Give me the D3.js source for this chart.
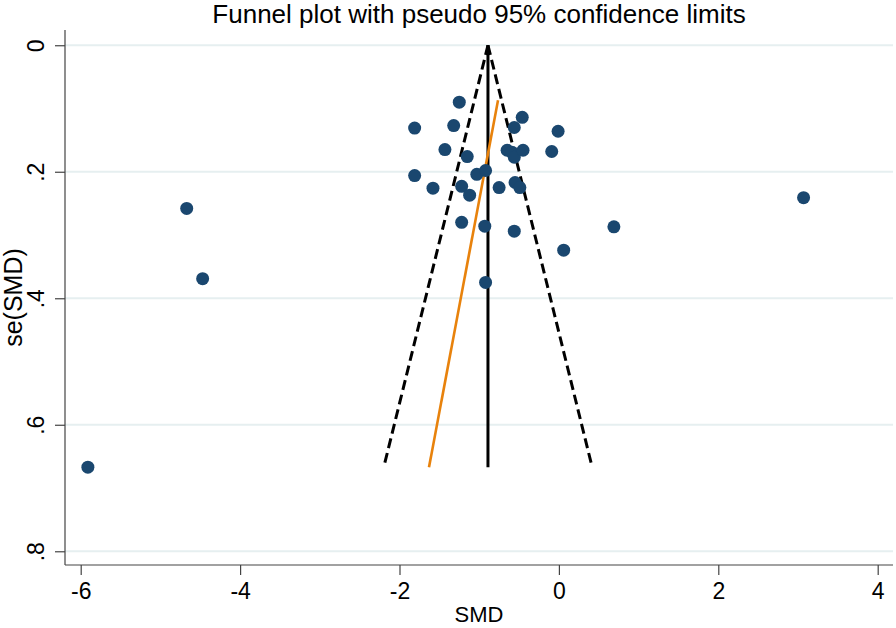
<!DOCTYPE html>
<html>
<head>
<meta charset="utf-8">
<script src="https://cdnjs.cloudflare.com/ajax/libs/d3/7.8.5/d3.min.js"></script>
<style>
  body { margin: 0; background: #fff; }
  text { font-family: "Liberation Sans", Arial, sans-serif; fill: #000; }
</style>
</head>
<body>
<svg width="896" height="628"></svg>
<script>
// study effect sizes (SMD) and their standard errors
var smd = [-5.91, -4.67, -4.47, 3.07, 0.69, 0.06, -0.92,
           -1.25, -1.81, -1.32, -0.46, -0.56, -0.01,
           -1.43, -1.15, -0.65, -0.59, -0.56, -0.45, -0.09,
           -1.81, -1.03, -0.92, -1.58, -1.22, -1.12, -0.75, -0.55, -0.49,
           -1.22, -0.93, -0.56];
var seSmd = [0.667, 0.258, 0.369, 0.241, 0.287, 0.324, 0.375,
             0.090, 0.131, 0.127, 0.114, 0.130, 0.136,
             0.165, 0.176, 0.166, 0.169, 0.177, 0.166, 0.168,
             0.206, 0.204, 0.198, 0.226, 0.223, 0.237, 0.225, 0.217, 0.225,
             0.280, 0.286, 0.294];

var pooled = -0.89;          // fixed-effect estimate (vertical line)
var seMax = 0.667;           // funnel drawn down to the largest se
var eggerIntercept = -0.634; // orange regression line: smd = a + b*se
var eggerSlope = -1.493;
var eggerRange = [0.087, 0.667];

var xTicks = [-6, -4, -2, 0, 2, 4];
var yTicks = [0, 0.2, 0.4, 0.6, 0.8];
var yTickLabels = ["0", ".2", ".4", ".6", ".8"];

var svg = d3.select("svg"),
    margin = {top: 30, right: 3, bottom: 63, left: 65},
    width = +svg.attr("width"),
    height = +svg.attr("height");

var x = d3.scaleLinear()
    .domain([-6.197, 4.192])
    .range([margin.left, width - margin.right]);

var y = d3.scaleLinear()
    .domain([-0.0241, 0.8217])
    .range([margin.top, height - margin.bottom]);

// gridlines
svg.append("g").selectAll("line")
    .data(yTicks)
    .enter().append("line")
    .attr("x1", margin.left)
    .attr("x2", width - margin.right)
    .attr("y1", function(d) { return y(d); })
    .attr("y2", function(d) { return y(d); })
    .attr("stroke", "#e6eff0")
    .attr("stroke-width", 2);

// axes
var xAxis = svg.append("g")
    .attr("transform", "translate(0," + (height - margin.bottom) + ")")
    .call(d3.axisBottom(x).tickValues(xTicks).tickSize(10).tickPadding(6)
      .tickFormat(function(d) { return String(d); }));
xAxis.selectAll("text").attr("font-size", 23).attr("dy", "0.8em");

var yAxis = svg.append("g")
    .attr("transform", "translate(" + margin.left + ",0)")
    .call(d3.axisLeft(y).tickValues(yTicks).tickSize(10).tickPadding(0)
      .tickFormat(function(d, i) { return yTickLabels[i]; }));
yAxis.selectAll(".tick text")
    .attr("font-size", 23)
    .attr("text-anchor", "middle")
    .attr("x", 0)
    .attr("transform", "translate(-29,0) rotate(-90)")
    .attr("dy", "0.35em");

svg.selectAll(".domain").attr("stroke", "#444").attr("stroke-width", 1.2);
xAxis.select(".domain")
    .attr("d", "M" + margin.left + ",0H" + (width - margin.right));
yAxis.select(".domain")
    .attr("d", "M0," + margin.top + "V" + (height - margin.bottom));
svg.selectAll(".tick line").attr("stroke", "#444").attr("stroke-width", 1.2);

// funnel limits
var line = d3.line()
    .x(function(d) { return x(d[0]); })
    .y(function(d) { return y(d[1]); });

[-1, 1].forEach(function(side) {
  svg.append("path")
      .attr("d", line([[pooled, 0], [pooled + side * 1.96 * seMax, seMax]]))
      .attr("fill", "none")
      .attr("stroke", "#000")
      .attr("stroke-width", 3)
      .attr("stroke-dasharray", "10,5");
});

svg.append("path")
    .attr("d", line([[pooled, 0], [pooled, seMax]]))
    .attr("stroke", "#000")
    .attr("stroke-width", 3);

// egger line
svg.append("path")
    .attr("d", line(eggerRange.map(function(s) { return [eggerIntercept + eggerSlope * s, s]; })))
    .attr("stroke", "#e8820c")
    .attr("stroke-width", 2.6);

// studies
svg.append("g").selectAll("circle")
    .data(smd)
    .enter().append("circle")
    .attr("cx", function(d) { return x(d); })
    .attr("cy", function(d, i) { return y(seSmd[i]); })
    .attr("r", 6.5)
    .attr("fill", "#1a476f");

// titles
svg.append("text")
    .attr("x", (margin.left + width - margin.right) / 2)
    .attr("y", 23)
    .attr("text-anchor", "middle")
    .attr("font-size", 26)
    .text("Funnel plot with pseudo 95% confidence limits");

svg.append("text")
    .attr("x", (margin.left + width - margin.right) / 2)
    .attr("y", 622)
    .attr("text-anchor", "middle")
    .attr("font-size", 22)
    .text("SMD");

svg.append("text")
    .attr("transform", "translate(22," + ((margin.top + height - margin.bottom) / 2) + ") rotate(-90)")
    .attr("text-anchor", "middle")
    .attr("font-size", 25)
    .text("se(SMD)");
</script>
</body>
</html>
